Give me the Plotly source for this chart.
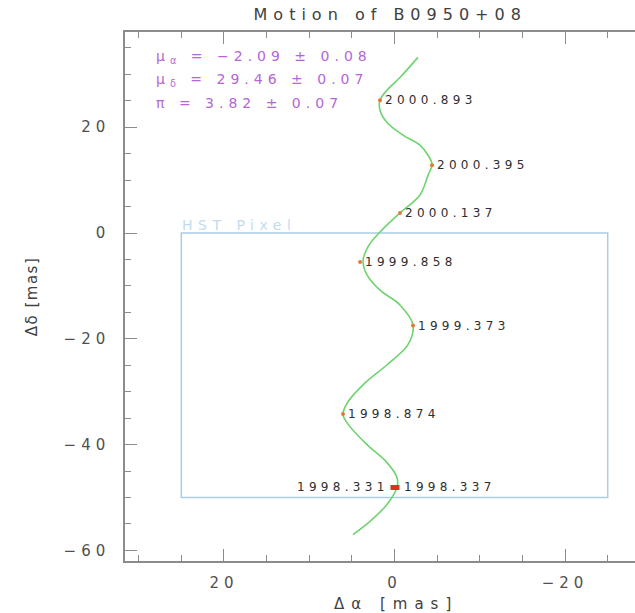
import plotly.graph_objects as go

# Fitted astrometric track (RA offset, Dec offset) in mas
track_ra = [-2.75, -0.64, 0.88, 1.70, 1.70, 0.88, -1.00, -2.99, -3.93, -4.40,
            -3.93, -2.99, -0.64, 1.70, 3.11, 3.69, 3.22, 1.70, -0.64, -2.17,
            -1.58, 0.88, 3.69, 5.45, 6.04, 5.22, 3.22, 0.88, -0.29, -0.29,
            0.88, 2.87, 4.87]
track_dec = [33.2, 29.4, 27.0, 25.1, 23.2, 20.9, 18.5, 16.6, 14.7, 13.0,
             10.9, 7.2, 3.8, 0.2, -2.6, -5.3, -7.9, -10.8, -13.6, -17.4,
             -21.1, -24.9, -28.7, -31.9, -34.3, -36.6, -40.0, -43.4, -46.2, -48.1,
             -51.3, -54.5, -57.0]

# Measured positions per epoch
epochs = ["2000.893", "2000.395", "2000.137", "1999.858", "1999.373", "1998.874"]
obs_ra = [1.70, -4.40, -0.64, 4.04, -2.17, 6.04]
obs_dec = [25.1, 12.8, 3.8, -5.5, -17.5, -34.2]

# The two close epochs of 1998
pair_epochs = ["1998.331", "1998.337"]
pair_ra = [0.18, -0.29]
pair_dec = [-48.1, -48.1]

# HST pixel outline (mas)
pixel_ra = [25, -25]
pixel_dec = [0, -50]

fit_lines = ["μ<sub>α</sub> = −2.09 ± 0.08",
             "μ<sub>δ</sub> = 29.46 ± 0.07",
             "π = 3.82 ± 0.07"]
fit_dec = [33.2, 28.9, 24.5]

x_ticks = [20, 0, -20]
x_labels = ["20", "0", "−20"]
y_ticks = [20, 0, -20, -40, -60]
y_labels = ["20", "0", "−20", "−40", "−60"]

FONT = "DejaVu Sans"
AXIS_GRAY = "#8c8c8c"


def spaced(text, px):
    return f'<span style="letter-spacing:{px}px">{text}</span>'


fig = go.Figure()

fig.add_shape(type="rect", xref="x", yref="y",
              x0=pixel_ra[0], x1=pixel_ra[1], y0=pixel_dec[0], y1=pixel_dec[1],
              line=dict(color="#a9cde8", width=1.5), layer="below")

fig.add_trace(go.Scatter(x=track_ra, y=track_dec, mode="lines",
                         line=dict(color="#6fd36f", width=1.6, shape="spline", smoothing=1.0),
                         hoverinfo="skip", showlegend=False))

fig.add_trace(go.Scatter(x=obs_ra, y=obs_dec, mode="markers",
                         marker=dict(color="#e07a3a", size=4, symbol="circle"),
                         showlegend=False))

fig.add_trace(go.Scatter(x=pair_ra, y=pair_dec, mode="markers",
                         marker=dict(color="#e03020", size=5, symbol="square"),
                         showlegend=False))

annotations = []
for lbl, xv, yv in zip(epochs, obs_ra, obs_dec):
    annotations.append(dict(x=xv, y=yv, xref="x", yref="y", text=spaced(lbl, 4.3),
                            showarrow=False, xanchor="left", yanchor="middle", xshift=3,
                            font=dict(family=FONT, size=12, color="#2e2e2e")))
annotations.append(dict(x=pair_ra[0], y=pair_dec[0], xref="x", yref="y",
                        text=spaced(pair_epochs[0], 4.3), showarrow=False,
                        xanchor="right", yanchor="middle", xshift=-2,
                        font=dict(family=FONT, size=12, color="#2e2e2e")))
annotations.append(dict(x=pair_ra[1], y=pair_dec[1], xref="x", yref="y",
                        text=spaced(pair_epochs[1], 4.3), showarrow=False,
                        xanchor="left", yanchor="middle", xshift=5,
                        font=dict(family=FONT, size=12, color="#2e2e2e")))

for txt, yv in zip(fit_lines, fit_dec):
    annotations.append(dict(x=28.2, y=yv, xref="x", yref="y", text=spaced(txt, 5),
                            showarrow=False, xanchor="left", yanchor="middle",
                            font=dict(family=FONT, size=14, color="#b565d9")))

annotations.append(dict(x=pixel_ra[0], y=pixel_dec[0], xref="x", yref="y",
                        text=spaced("HST Pixel", 5.5), showarrow=False,
                        xanchor="left", yanchor="bottom", xshift=-1, yshift=-2,
                        font=dict(family=FONT, size=14, color="#c2dcef")))

# x-axis title
annotations.append(dict(x=0.531, y=-0.081, xref="paper", yref="paper",
                        text=spaced("Δα [mas]", 7), showarrow=False,
                        xanchor="center", yanchor="middle",
                        font=dict(family=FONT, size=15, color="#404040")))

fig.update_layout(
    width=635, height=613,
    margin=dict(l=125, r=0, t=32, b=52),
    paper_bgcolor="white", plot_bgcolor="white",
    title=dict(text=spaced("Motion of B0950+08", 6), x=0.52, xref="paper",
               xanchor="center", y=0.985, yanchor="top",
               font=dict(family=FONT, size=16, color="#404040")),
    annotations=annotations,
    showlegend=False,
)

fig.update_xaxes(
    range=[31.6, -28.2], showgrid=False, zeroline=False,
    showline=True, linecolor=AXIS_GRAY, linewidth=1.5, mirror="ticks",
    ticks="inside", ticklen=12, tickwidth=1, tickcolor=AXIS_GRAY,
    tickmode="array", tickvals=x_ticks, ticktext=[spaced(t, 5) for t in x_labels],
    ticklabelstandoff=7,
    minor=dict(tickmode="linear", tick0=0, dtick=5, ticks="inside", ticklen=6,
               tickcolor=AXIS_GRAY),
    tickfont=dict(family=FONT, size=15, color="#505050"),
)

fig.update_yaxes(
    range=[-62, 38], showgrid=False, zeroline=False,
    showline=True, linecolor=AXIS_GRAY, linewidth=1.5, mirror=False,
    ticks="inside", ticklen=12, tickwidth=1, tickcolor=AXIS_GRAY,
    tickmode="array", tickvals=y_ticks, ticktext=[spaced(t, 5) for t in y_labels],
    ticklabelstandoff=10,
    minor=dict(tickmode="linear", tick0=0, dtick=5, ticks="inside", ticklen=6,
               tickcolor=AXIS_GRAY),
    tickfont=dict(family=FONT, size=15, color="#505050"),
    title=dict(text=spaced("Δδ [mas]", 1.5), standoff=22,
               font=dict(family=FONT, size=15, color="#404040")),
)

fig.write_html("out.html")
